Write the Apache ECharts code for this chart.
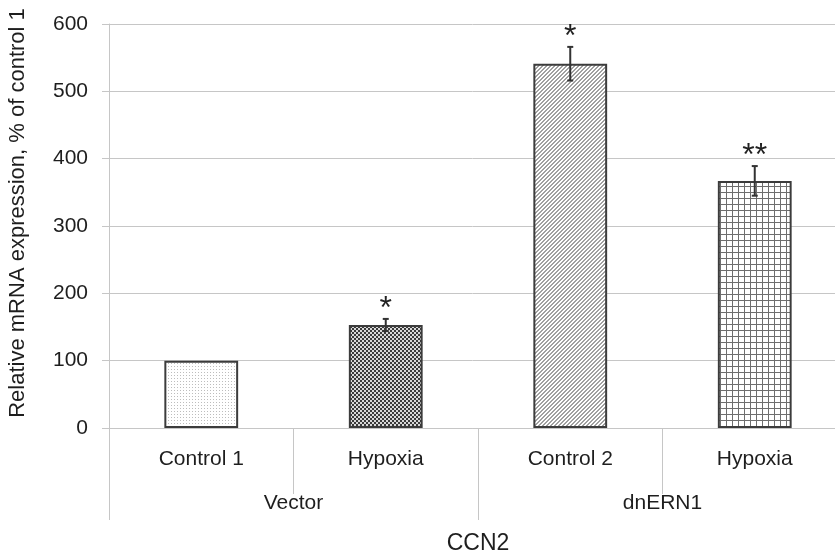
<!DOCTYPE html>
<html>
<head>
<meta charset="utf-8">
<script src="https://cdn.jsdelivr.net/npm/echarts@6/dist/echarts.min.js"></script>
<style>
  html, body { margin: 0; padding: 0; background: #fff; }
  #chart { width: 835px; height: 552px; }
</style>
</head>
<body>
<div id="chart"></div>
<script>
// Conditions within each construct group
const conditions = ['Control 1', 'Hypoxia', 'Control 2', 'Hypoxia'];
// Construct groups, two conditions each
const groups = ['Vector', 'dnERN1'];
// Mean relative expression (% of control 1)
const means = [100, 153, 541, 367];
// Error bar half-lengths
const errors = [0, 9, 25, 22];
// Significance marks drawn above the error bars
const marks = ['', '*', '*', '**'];
const yTicks = { min: 0, max: 600, step: 100 };

function makePattern(size, draw) {
  const c = document.createElement('canvas');
  c.width = size; c.height = size;
  const g = c.getContext('2d');
  g.fillStyle = '#ffffff';
  g.fillRect(0, 0, size, size);
  draw(g);
  return { image: c, repeat: 'repeat' };
}

// Fine dots
const dots = makePattern(3, g => {
  g.fillStyle = '#bdbdbd';
  g.fillRect(0, 0, 1, 1);
});
// Dense checkerboard
const checker = makePattern(4, g => {
  g.fillStyle = '#d8d8d8';
  g.fillRect(0, 0, 4, 4);
  g.fillStyle = '#3a3a3a';
  g.fillRect(0, 0, 2, 2);
  g.fillRect(2, 2, 2, 2);
});
// Diagonal hatching
const hatch = makePattern(4, g => {
  g.fillStyle = '#a0a0a0';
  for (let i = 0; i < 4; i++) {
    g.fillRect((3 - i + 4) % 4, i, 1, 1);
    g.fillRect((4 - i + 4) % 4, i, 1, 1);
  }
});
// Square grid
const grid = makePattern(6, g => {
  g.fillStyle = '#6e6e6e';
  g.fillRect(0, 0, 6, 1);
  g.fillRect(0, 0, 1, 6);
});
const fills = [dots, checker, hatch, grid];

const font = '"Liberation Sans", Arial, sans-serif';
const textColor = '#1e1e1e';
const lineGray = '#c6c6c6';

const chart = echarts.init(document.getElementById('chart'), null, { renderer: 'canvas' });

chart.setOption({
  animation: false,
  backgroundColor: '#fff',
  grid: { left: 109, top: 24, width: 738, height: 404, containLabel: false, outerBoundsMode: 'none' },
  xAxis: [
    {
      type: 'category',
      data: conditions,
      position: 'bottom',
      axisLine: { show: true, lineStyle: { color: lineGray, width: 1 } },
      axisTick: { show: true, length: 66, lineStyle: { color: lineGray } },
      axisLabel: { fontSize: 21, color: textColor, fontFamily: font, margin: 21 },
      splitLine: { show: false }
    },
    {
      type: 'category',
      data: groups,
      position: 'bottom',
      axisLine: { show: false },
      axisTick: { show: true, length: 92, lineStyle: { color: lineGray } },
      axisLabel: { fontSize: 21, color: textColor, fontFamily: font, margin: 65 },
      name: 'CCN2',
      nameLocation: 'middle',
      nameGap: 104,
      nameTextStyle: { fontSize: 23, color: textColor, fontFamily: font },
      splitLine: { show: false }
    }
  ],
  yAxis: {
    type: 'value',
    min: yTicks.min,
    max: yTicks.max,
    interval: yTicks.step,
    name: 'Relative mRNA expression, % of control 1',
    nameLocation: 'middle',
    nameGap: 80,
    nameTextStyle: { fontSize: 22, color: textColor, fontFamily: font, padding: [0, 0, 0, 26] },
    axisLine: { show: true, lineStyle: { color: lineGray } },
    axisTick: { show: true, length: 7, lineStyle: { color: lineGray } },
    axisLabel: { fontSize: 21, color: textColor, fontFamily: font, margin: 21 },
    splitLine: { show: true, lineStyle: { color: lineGray, width: 1 } }
  },
  series: [
    {
      type: 'bar',
      xAxisIndex: 0,
      barWidth: '40%',
      data: means.map((v, i) => ({
        value: v,
        itemStyle: { color: fills[i], borderColor: '#3c3c3c', borderWidth: 2 }
      })),
      z: 2
    },
    {
      type: 'custom',
      xAxisIndex: 0,
      z: 3,
      data: means.map((v, i) => [i, v, errors[i]]),
      renderItem: function (params, api) {
        const i = api.value(0);
        const v = api.value(1);
        const e = api.value(2);
        const mark = marks[params.dataIndex];
        const top = api.coord([i, v + e]);
        const bottom = api.coord([i, v - e]);
        const cap = 3;
        const children = [];
        if (e > 0) {
          const st = { stroke: '#333', lineWidth: 2 };
          children.push(
            { type: 'line', shape: { x1: top[0], y1: top[1], x2: bottom[0], y2: bottom[1] }, style: st },
            { type: 'line', shape: { x1: top[0] - cap, y1: top[1], x2: top[0] + cap, y2: top[1] }, style: st },
            { type: 'line', shape: { x1: bottom[0] - cap, y1: bottom[1], x2: bottom[0] + cap, y2: bottom[1] }, style: st }
          );
        }
        if (mark) {
          children.push({
            type: 'text',
            style: {
              x: top[0], y: top[1] + 6,
              text: mark,
              fill: '#222',
              font: '32px ' + font,
              textAlign: 'center',
              textVerticalAlign: 'bottom'
            }
          });
        }
        return { type: 'group', children: children };
      }
    }
  ]
});
</script>
</body>
</html>
